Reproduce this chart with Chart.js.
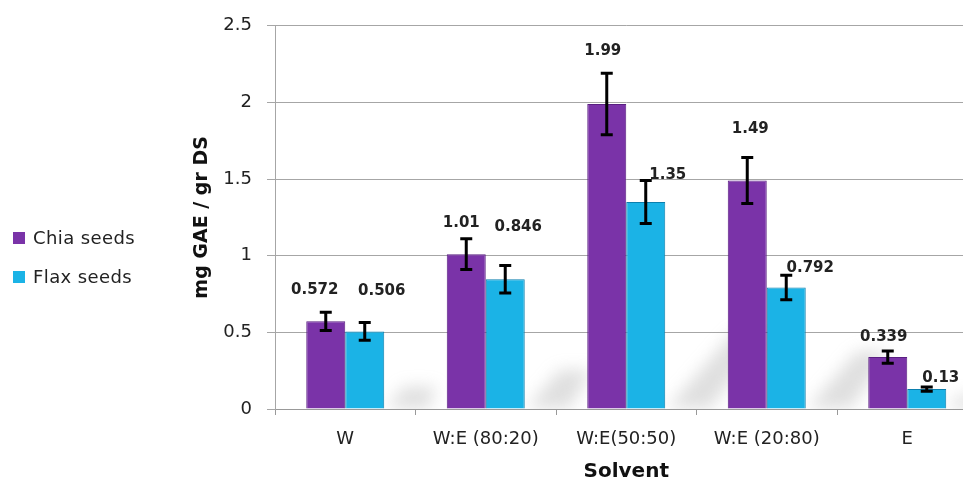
<!DOCTYPE html>
<html>
<head>
<meta charset="utf-8">
<script src="https://cdn.jsdelivr.net/npm/chart.js@4.4.1/dist/chart.umd.min.js"></script>
<style>
  html, body { margin: 0; padding: 0; background: #fff; overflow: hidden; width: 963px; height: 482px; }
  #wrap { position: absolute; left: 0; top: 0; width: 990px; height: 482px; }
  #legend { position: absolute; left: 13px; top: 0; font-family: "DejaVu Sans", sans-serif; font-size: 18px; color: #222; }
  .item { position: absolute; left: 0; white-space: nowrap; height: 20px; line-height: 20px; }
  .sw { position: absolute; left: 0; top: 4px; width: 12px; height: 12px; }
  .tx { position: absolute; left: 20px; top: 0; letter-spacing: 0.4px; }
</style>
</head>
<body>
<div id="wrap"><canvas id="c" width="990" height="482"></canvas></div>
<div id="legend">
  <div class="item" style="top:228px"><span class="sw" style="background:#7A33A8"></span><span class="tx">Chia seeds</span></div>
  <div class="item" style="top:267px"><span class="sw" style="background:#1BB3E6"></span><span class="tx">Flax seeds</span></div>
</div>
<script>
const categories = ['W', 'W:E (80:20)', 'W:E(50:50)', 'W:E (20:80)', 'E'];
const chiaValues = [0.572, 1.01, 1.99, 1.49, 0.339];
const flaxValues = [0.506, 0.846, 1.35, 0.792, 0.13];
const chiaErrors = [0.06, 0.10, 0.20, 0.15, 0.04];
const flaxErrors = [0.058, 0.09, 0.14, 0.08, 0.014];
const chiaLabels = ['0.572', '1.01', '1.99', '1.49', '0.339'];
const flaxLabels = ['0.506', '0.846', '1.35', '0.792', '0.13'];
const yTicks = [0, 0.5, 1, 1.5, 2, 2.5];

// label nudges (pixels, relative to bar centre / error-bar top)
const labelNudge = [
  { dx: [-11, -5, -4, 3, -4], dy: [-22, -16, -22, -29, -14] },
  { dx: [17, 13, 22, 24, 14], dy: [-31, -38, -6, -7, -9] }
];

const errors = [chiaErrors, flaxErrors];
const labels = [chiaLabels, flaxLabels];

const errPlugin = {
  id: 'errBars',
  beforeDatasetsDraw(chart) {
    const ctx = chart.ctx;
    const ys = chart.scales.y;
    const meta = chart.getDatasetMeta(1);
    ctx.save();
    ctx.beginPath();
    ctx.rect(chart.chartArea.left, chart.chartArea.top, chart.chartArea.right - chart.chartArea.left, chart.chartArea.bottom - chart.chartArea.top);
    ctx.clip();
    ctx.filter = 'blur(8px)';
    meta.data.forEach((el, i) => {
      const h = el.base - ys.getPixelForValue(chiaValues[i]);
      const x0 = el.x + el.width / 2;
      const sh = h * 0.25;
      ctx.fillStyle = 'rgba(150,150,150,0.3)';
      ctx.beginPath();
      ctx.moveTo(x0 + 2, el.base);
      ctx.lineTo(x0 + sh * 0.9, el.base - sh);
      ctx.lineTo(x0 + sh * 0.9 + 32, el.base - sh);
      ctx.lineTo(x0 + 45, el.base);
      ctx.closePath();
      ctx.fill();
    });
    ctx.restore();
  },
  afterDatasetsDraw(chart) {
    const ctx = chart.ctx;
    const ys = chart.scales.y;
    ctx.save();
    [0, 1].forEach(d => {
      const meta = chart.getDatasetMeta(d);
      const vals = chart.data.datasets[d].data;
      meta.data.forEach((el, i) => {
        const v = vals[i];
        const e = errors[d][i];
        const yt = ys.getPixelForValue(v + e);
        const yb = ys.getPixelForValue(v - e);
        const x = el.x;
        ctx.strokeStyle = '#000';
        ctx.lineWidth = 3;
        ctx.beginPath();
        ctx.moveTo(x, yt); ctx.lineTo(x, yb);
        ctx.moveTo(x - 6, yt); ctx.lineTo(x + 6, yt);
        ctx.moveTo(x - 6, yb); ctx.lineTo(x + 6, yb);
        ctx.stroke();
        ctx.fillStyle = '#222';
        ctx.font = 'bold 15px "DejaVu Sans", sans-serif';
        ctx.textAlign = 'center';
        ctx.textBaseline = 'middle';
        ctx.fillText(labels[d][i], x + labelNudge[d].dx[i], yt + labelNudge[d].dy[i]);
      });
    });
    ctx.restore();
  }
};

new Chart(document.getElementById('c'), {
  type: 'bar',
  data: {
    labels: categories,
    datasets: [
      { label: 'Chia seeds', data: chiaValues, backgroundColor: '#7A33A8', borderColor: '#5A1F82', borderWidth: 1 },
      { label: 'Flax seeds', data: flaxValues, backgroundColor: '#1BB3E6', borderColor: '#0B7FAE', borderWidth: 1 }
    ]
  },
  options: {
    responsive: false,
    animation: false,
    layout: { padding: { left: 185, right: 12.5, top: 22, bottom: 0 } },
    datasets: { bar: { categoryPercentage: 0.555, barPercentage: 1 } },
    plugins: { legend: { display: false }, tooltip: { enabled: false } },
    scales: {
      x: {
        afterFit: s => { s.height = 73; },
        grid: { display: true, drawOnChartArea: false, tickLength: 6, color: '#999', offset: true },
        border: { display: true, color: '#999' },
        ticks: { color: '#222', font: { family: '"DejaVu Sans", sans-serif', size: 18 }, padding: 14, maxRotation: 0, autoSkip: false },
        title: { display: true, text: 'Solvent', color: '#111', font: { family: '"DejaVu Sans", sans-serif', size: 20, weight: 'bold', lineHeight: 1 }, padding: { top: 0, bottom: 0 } }
      },
      y: {
        min: 0, max: 2.5,
        afterFit: s => { s.width = 90; },
        afterBuildTicks: s => { s.ticks = yTicks.map(v => ({ value: v })); },
        grid: { color: '#a6a6a6', tickLength: 8, lineWidth: 1 },
        border: { display: true, color: '#a6a6a6' },
        ticks: { color: '#222', font: { family: '"DejaVu Sans", sans-serif', size: 18 }, padding: 15, callback: v => String(v) },
        title: { display: true, text: 'mg GAE / gr DS', color: '#111', font: { family: '"DejaVu Sans", sans-serif', size: 19, weight: 'bold', lineHeight: 1 }, padding: { top: 7.5, bottom: 0 } }
      }
    }
  },
  plugins: [errPlugin]
});
</script>
</body>
</html>
